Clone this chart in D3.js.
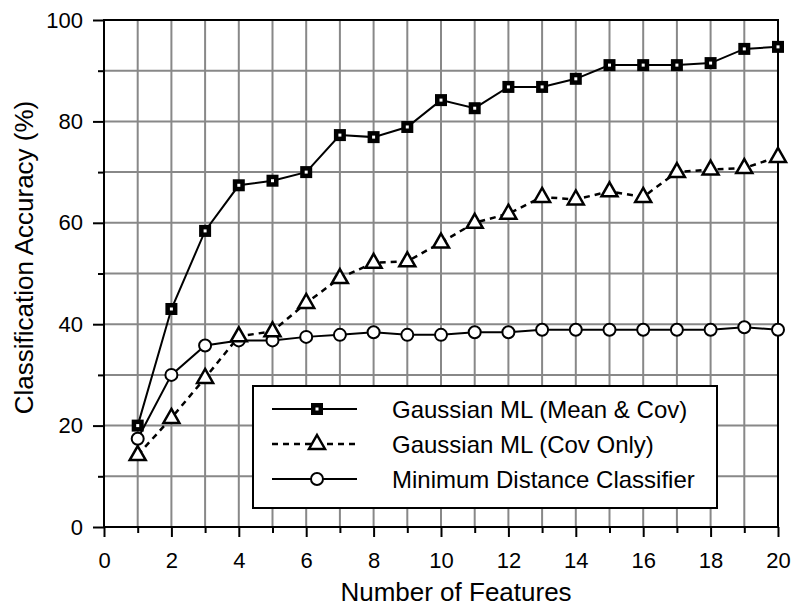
<!DOCTYPE html>
<html>
<head>
<meta charset="utf-8">
<script src="https://d3js.org/d3.v7.min.js"></script>
<style>
  body { margin: 0; background: #fff; }
  text { font-family: "Liberation Sans", Arial, sans-serif; }
</style>
</head>
<body>
<div id="main-chart"></div>
<script>
// data
let features = d3.range(1, 21);
let meanCov = [20, 43, 58.4, 67.4, 68.3, 70, 77.3, 76.9, 78.9, 84.2, 82.6, 86.8, 86.8, 88.4, 91.1, 91.1, 91.1, 91.5, 94.3, 94.7];
let covOnly = [14.2, 21.5, 29.4, 37.6, 38.6, 44.2, 49.1, 52.1, 52.4, 56.1, 60, 61.8, 65.1, 64.6, 66.2, 65.1, 70, 70.5, 70.8, 73];
let minDist = [17.4, 30, 35.8, 36.8, 36.8, 37.5, 37.9, 38.4, 37.9, 37.9, 38.4, 38.4, 38.9, 38.9, 38.9, 38.9, 38.9, 38.9, 39.4, 38.9];
let seriesNames = ['Gaussian ML (Mean & Cov)', 'Gaussian ML (Cov Only)', 'Minimum Distance Classifier'];
let xTicks = d3.range(0, 21, 2);
let yTicks = d3.range(0, 101, 20);

let margin = {left:104, top:20, bottom:80, right:17},
width = 795 - margin.left - margin.right,
height = 607 - margin.top - margin.bottom;

let x = d3.scaleLinear().domain([0, 20]).range([0, width]);
let y = d3.scaleLinear().domain([0, 100]).range([height, 0]);

let svg = d3.select('#main-chart')
            .append('svg')
            .attr('width', 795)
            .attr('height', 607)
            .append('g')
            .attr('transform', `translate(${margin.left}, ${margin.top})`);

// grid
svg.append('g')
   .selectAll('line')
   .data(d3.range(1, 20))
   .join('line')
   .attr('x1', d => x(d)).attr('x2', d => x(d))
   .attr('y1', 0).attr('y2', height)
   .attr('stroke', '#888').attr('stroke-width', 2);

svg.append('g')
   .selectAll('line')
   .data(d3.range(10, 100, 10))
   .join('line')
   .attr('x1', 0).attr('x2', width)
   .attr('y1', d => y(d)).attr('y2', d => y(d))
   .attr('stroke', '#888').attr('stroke-width', 2);

// frame
svg.append('rect')
   .attr('width', width).attr('height', height)
   .attr('fill', 'none').attr('stroke', '#000').attr('stroke-width', 2);

// axes
svg.append('g')
   .attr('transform', `translate(0,${height})`)
   .call(d3.axisBottom(x).tickValues(xTicks).tickSize(10).tickPadding(15).tickFormat(d3.format('d')));
svg.append('g')
   .attr('transform', `translate(0,${height})`)
   .call(d3.axisBottom(x).tickValues(d3.range(1, 20, 2)).tickSize(6).tickFormat(''));

svg.append('g')
   .call(d3.axisLeft(y).tickValues(yTicks).tickSize(11).tickPadding(10));
svg.append('g')
   .call(d3.axisLeft(y).tickValues(d3.range(10, 100, 20)).tickSize(6).tickFormat(''));

svg.selectAll('.domain').remove();
svg.selectAll('.tick line').attr('stroke', '#000').attr('stroke-width', 2);
svg.selectAll('.tick text').style('font-size', '22px').attr('fill', '#000');

// axis titles
svg.append('text')
   .attr('x', width / 2 + 15)
   .attr('y', height + 74)
   .attr('text-anchor', 'middle')
   .style('font-size', '26px')
   .text('Number of Features');

svg.append('text')
   .attr('transform', `translate(${-71},${height / 2 - 16}) rotate(-90)`)
   .attr('text-anchor', 'middle')
   .style('font-size', '26px')
   .text('Classification Accuracy (%)');

// lines
let line = d3.line().x((d, i) => x(features[i])).y(d => y(d));

svg.append('path').datum(minDist).attr('d', line)
   .attr('fill', 'none').attr('stroke', '#000').attr('stroke-width', 2);
svg.append('path').datum(covOnly).attr('d', line)
   .attr('fill', 'none').attr('stroke', '#000').attr('stroke-width', 2.5)
   .attr('stroke-dasharray', '6,5');
svg.append('path').datum(meanCov).attr('d', line)
   .attr('fill', 'none').attr('stroke', '#000').attr('stroke-width', 2);

function drawSquare(g) {
  g.append('rect').attr('x', -6).attr('y', -6).attr('width', 12).attr('height', 12).attr('fill', '#000');
  g.append('rect').attr('x', -1.5).attr('y', -1.5).attr('width', 3).attr('height', 3).attr('fill', '#fff');
}
function drawTriangle(g) {
  g.append('path').attr('d', 'M0,-9 L8,5 L-8,5 Z')
   .attr('fill', '#fff').attr('stroke', '#000').attr('stroke-width', 2.5).attr('stroke-linejoin', 'miter');
}
function drawCircle(g) {
  g.append('circle').attr('r', 6).attr('fill', '#fff').attr('stroke', '#000').attr('stroke-width', 2);
}

svg.selectAll('.pt-min').data(minDist).join('g')
   .attr('transform', (d, i) => `translate(${x(features[i])},${y(d)})`)
   .each(function() { drawCircle(d3.select(this)); });
svg.selectAll('.pt-cov').data(covOnly).join('g')
   .attr('transform', (d, i) => `translate(${x(features[i])},${y(d)})`)
   .each(function() { drawTriangle(d3.select(this)); });
svg.selectAll('.pt-mean').data(meanCov).join('g')
   .attr('transform', (d, i) => `translate(${x(features[i])},${y(d)})`)
   .each(function() { drawSquare(d3.select(this)); });

// legend
let legend = svg.append('g').attr('transform', `translate(${253 - margin.left},${386 - margin.top})`);
legend.append('rect')
   .attr('width', 464).attr('height', 122)
   .attr('fill', '#fff').attr('stroke', '#000').attr('stroke-width', 2);

let markers = [drawSquare, drawTriangle, drawCircle];
seriesNames.forEach((name, i) => {
  let row = legend.append('g').attr('transform', `translate(0,${23 + i * 35})`);
  row.append('line').attr('x1', 19).attr('x2', 104).attr('y1', 0).attr('y2', 0)
     .attr('stroke', '#000').attr('stroke-width', i == 1 ? 2.5 : 2)
     .attr('stroke-dasharray', i == 1 ? '6,5' : null);
  let m = row.append('g').attr('transform', 'translate(64,0)');
  markers[i](m);
  row.append('text').attr('x', 139).attr('y', 8.5)
     .style('font-size', '24px').text(name);
});
</script>
</body>
</html>
